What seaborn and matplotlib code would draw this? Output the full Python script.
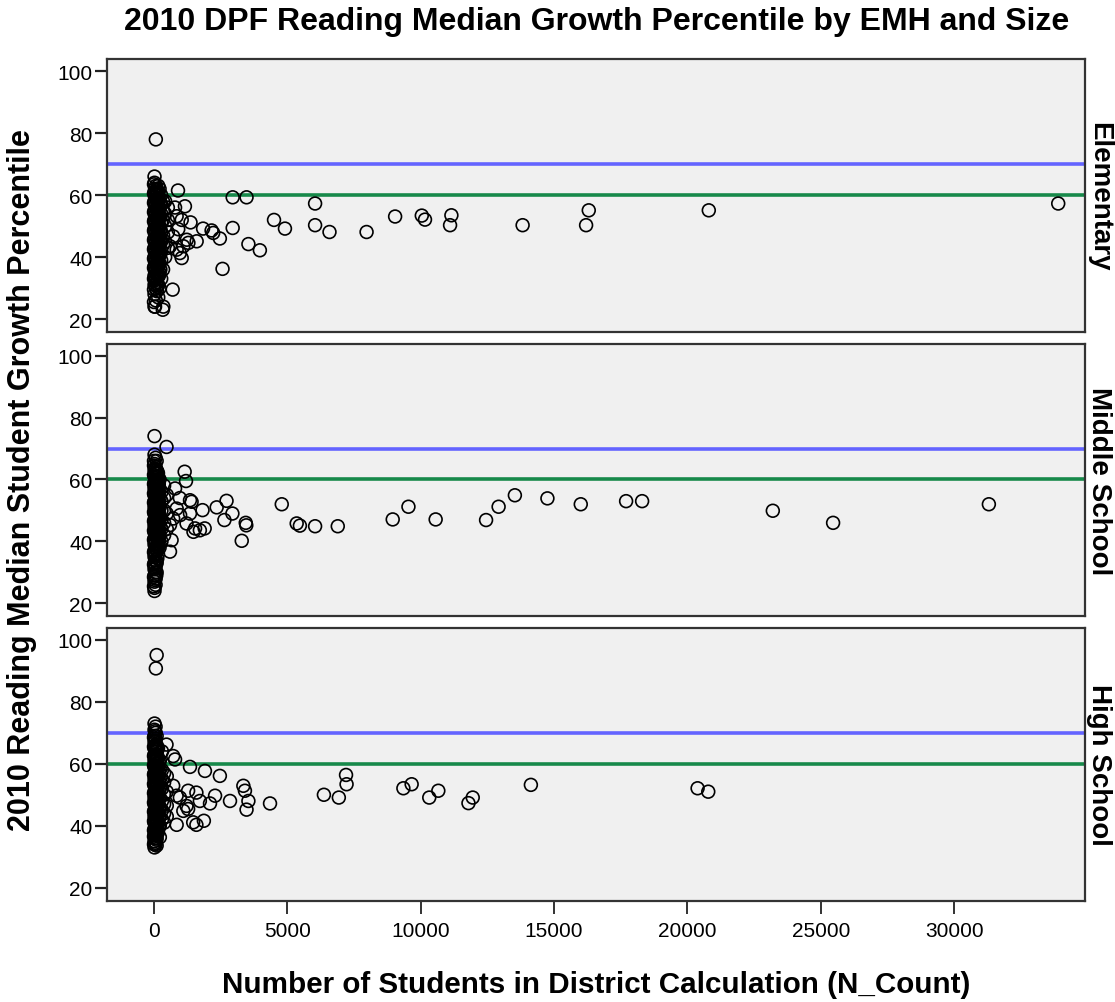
import numpy as np
import pandas as pd
import matplotlib
matplotlib.use("Agg")
import matplotlib.pyplot as plt
import seaborn as sns

# ---------------- data ----------------
levels = ["Elementary", "Middle School", "High School"]

elem_n = (
    [20] * 15 + [70] * 13 + [110] * 12 + [160] * 13 + [210] * 11 + [270] * 9 + [340] * 6 +
    [40] * 11 + [130] * 11 + [185] * 9 + [240] * 6 + [420] * 5 + [520] * 4 +
    [0] * 13 + [90] * 11 + [145] * 9 +
    [70, 330, 40, 900, 790, 1160, 1040, 1370, 910, 1230, 850, 1040, 700, 350, 720, 600,
     850, 970, 1100, 1290, 1600, 1840, 2160, 2220, 2470, 2950, 3470, 2950, 3540, 3970,
     2570, 4500, 4910, 6040, 6040, 6580, 7970, 9040, 10040, 10160, 11150, 11100,
     13820, 16300, 16200, 20800, 33900]
)
elem_mgp = (
    [24, 28, 31, 34, 37, 40, 43, 46, 49, 52, 55, 58, 61, 64, 66] +
    [26, 30, 33, 36, 39, 42, 45, 48, 51, 54, 57, 60, 63] +
    [29, 32, 35, 38, 41, 44, 47, 50, 53, 56, 59, 62] +
    [27, 31, 34, 37, 40, 43, 46, 49, 52, 55, 58, 61, 63] +
    [30, 35, 38, 41, 44, 47, 50, 53, 56, 59, 62] +
    [33, 39, 42, 45, 48, 51, 54, 57, 60] +
    [36, 44, 47, 52, 55, 58] +
    [32.5, 35.5, 38.5, 41.5, 44.5, 47.5, 50.5, 53.5, 56.5, 59.5, 62] +
    [30.5, 33.5, 36.5, 39.5, 42.5, 45.5, 48.5, 51.5, 54.5, 57.5, 60.5] +
    [34, 37.5, 40.5, 43.5, 46.5, 49.5, 52.5, 55.5, 58.5] +
    [36, 41, 45, 49, 53, 57] +
    [40, 45, 50, 54, 58] +
    [43, 48, 52, 56] +
    [25.5, 29.5, 33, 36.5, 39.5, 42.5, 45.5, 48.5, 51.5, 54.5, 57.5, 60.5, 63.5] +
    [31.5, 34.5, 37.5, 40.5, 43.5, 46.5, 49.5, 52.5, 55.5, 58.5, 61.5] +
    [35, 38, 41, 44, 47, 50, 53, 56, 59] +
    [78, 23, 24, 61.5, 56, 56.4, 52, 51.2, 49, 45.6, 42.4, 39.7, 29.5, 24, 46.7, 43.5,
     53.2, 41.3, 43.5, 44.6, 45.1, 49.2, 48.6, 47.8, 46, 59.3, 59.3, 49.4, 44.2, 42.2,
     36.2, 52, 49.2, 57.3, 50.3, 48.1, 48.1, 53.1, 53.4, 52.1, 53.5, 50.3,
     50.3, 55.1, 50.3, 55.1, 57.3]
)

mid_n = (
    [20] * 24 + [60] * 21 + [100] * 16 + [150] * 13 + [210] * 8 + [280] * 6 +
    [40] * 12 + [125] * 10 + [180] * 7 + [380] * 5 + [480] * 3 +
    [0] * 14 + [85] * 11 + [140] * 9 +
    [470, 1150, 1200, 970, 1350, 1410, 1480, 600, 660, 720, 850, 790, 1820, 2350, 2720,
     2940, 2640, 3440, 3460, 3290, 4790, 5350, 5470, 6040, 6890, 8950, 9540, 10560,
     12450, 12920, 13530, 14750, 16000, 17700, 18300, 23200, 25460, 31300,
     980, 1350, 1540, 1720, 1900, 1220, 600]
)
mid_mgp = (
    [24, 25, 27, 29, 31, 33, 35, 37, 39, 41, 43, 45, 47, 49, 51, 53, 55, 57, 59, 61, 63, 65, 68, 74] +
    [26, 28, 30, 32, 34, 36, 38, 40, 42, 44, 46, 48, 50, 52, 54, 56, 58, 60, 62, 64, 67] +
    [30, 33, 37, 41, 43, 45, 47, 49, 51, 53, 55, 57, 59, 61, 63, 66] +
    [36, 39, 42, 44, 46, 48, 50, 52, 54, 56, 58, 60, 62] +
    [38, 42, 45, 48, 51, 54, 57, 60] +
    [40, 44, 47, 50, 53, 56] +
    [27.5, 31.5, 35.5, 39.5, 42.5, 45.5, 48.5, 51.5, 54.5, 57.5, 60.5, 63.5] +
    [34.5, 38.5, 41.5, 44.5, 47.5, 50.5, 53.5, 56.5, 59.5, 62.5] +
    [40.5, 43.5, 46.5, 49.5, 52.5, 55.5, 58.5] +
    [42, 46, 50, 54, 58] +
    [44, 49, 55] +
    [25.5, 28.5, 32.5, 36.5, 40.5, 43.5, 46.5, 49.5, 52.5, 55.5, 58.5, 61.5, 64.5, 66] +
    [29, 33.5, 37.5, 41.5, 44.5, 47.5, 50.5, 53.5, 56.5, 59.5, 62.5] +
    [38, 41, 44, 47, 50, 53, 56, 59, 61] +
    [70.5, 62.5, 59.5, 54, 53.3, 52.8, 43.1, 36.7, 40.4, 47.4, 50.6, 57.1, 50.1, 51, 53.1,
     49, 46.9, 46, 45.2, 40.2, 52, 45.8, 45.1, 44.9, 44.9, 47.1, 51.2, 47.1,
     46.9, 51.2, 54.9, 53.9, 52, 53, 53, 49.9, 46, 52,
     48.5, 49, 44.2, 43.6, 44.2, 45.8, 45.3]
)

high_n = (
    [20] * 21 + [60] * 20 + [100] * 12 + [150] * 10 + [220] * 8 + [300] * 7 +
    [40] * 13 + [125] * 10 + [185] * 8 + [380] * 6 + [480] * 4 +
    [0] * 13 + [85] * 11 + [140] * 8 +
    [100, 70, 470, 790, 720, 1350, 1910, 2470, 3350, 3410, 3540, 3470, 2850, 2290, 2100,
     1720, 1280, 1590, 850, 850, 1590, 1870, 1100, 1280, 4350, 6370, 6930, 7200, 7220,
     9350, 9660, 10320, 10660, 11790, 11950, 14130, 20380, 20780, 720, 970, 1220, 1470,
     100, 220]
)
high_mgp = (
    [33, 35, 37, 39, 41, 43, 45, 47, 49, 51, 53, 55, 57, 59, 61, 63, 65, 67, 69, 71, 73] +
    [34, 36, 38, 40, 42, 44, 46, 48, 50, 52, 54, 56, 58, 60, 62, 64, 66, 68, 70, 72] +
    [36, 39, 42, 45, 48, 51, 54, 57, 60, 63, 66, 69] +
    [38, 41, 44, 47, 50, 53, 56, 59, 62, 65] +
    [40, 43, 46, 49, 52, 55, 58, 61] +
    [42, 45, 48, 52, 55, 58, 64] +
    [34.5, 37.5, 40.5, 43.5, 46.5, 49.5, 52.5, 55.5, 58.5, 61.5, 64.5, 67.5, 70.5] +
    [37.5, 40.5, 43.5, 46.5, 49.5, 52.5, 55.5, 58.5, 61.5, 64.5] +
    [39.5, 42.5, 45.5, 48.5, 51.5, 54.5, 57.5, 60.5] +
    [41, 44, 47, 50, 54, 57] +
    [43, 46.5, 51, 56] +
    [34, 36.5, 38.5, 41.5, 44.5, 47.5, 50.5, 53.5, 56.5, 59.5, 62.5, 65.5, 68.5] +
    [35.5, 38.5, 41.5, 44.5, 47.5, 50.5, 53.5, 56.5, 59.5, 62.5, 65.5] +
    [39, 42, 45, 48, 51, 54, 57, 60] +
    [95.1, 90.8, 66.2, 61.4, 62.5, 59, 57.7, 56.1, 52.9, 51.3, 48, 45.2, 48, 49.7, 47.2,
     48, 51.3, 50.7, 49.7, 40.3, 40.3, 41.6, 44.8, 45.4, 47.2, 50, 49.1, 56.4, 53.4,
     52.1, 53.4, 49.1, 51.3, 47.3, 49.1, 53.2, 52.1, 51, 52.9, 49.1, 46.4, 41.1,
     33.6, 36.3]
)

ref_lines = [70, 60]
ref_colors = ["#6464ff", "#17894a"]
x_ticks = [0, 5000, 10000, 15000, 20000, 25000, 30000]
y_ticks = [20, 40, 60, 80, 100]

df = pd.concat([
    pd.DataFrame({"N_Count": elem_n, "MGP": elem_mgp, "EMH": "Elementary"}),
    pd.DataFrame({"N_Count": mid_n, "MGP": mid_mgp, "EMH": "Middle School"}),
    pd.DataFrame({"N_Count": high_n, "MGP": high_mgp, "EMH": "High School"}),
], ignore_index=True)

# ---------------- plot ----------------
sns.set_theme(style="ticks")
plt.rcParams["font.family"] = ["Liberation Sans", "DejaVu Sans"]
plt.rcParams["text.color"] = "black"
plt.rcParams["axes.labelcolor"] = "black"
plt.rcParams["xtick.color"] = "black"
plt.rcParams["ytick.color"] = "black"
plt.rcParams["xtick.labelcolor"] = "black"
plt.rcParams["ytick.labelcolor"] = "black"

fig, axes = plt.subplots(3, 1, figsize=(11.15, 10.03), dpi=100, sharex=True)
fig.subplots_adjust(left=0.096, right=0.973, top=0.940, bottom=0.101, hspace=0.042)

for ax, lev in zip(axes, levels):
    sub = df[df["EMH"] == lev]
    ax.set_facecolor("#f0f0f0")
    for val, col in zip(ref_lines, ref_colors):
        ax.axhline(val, color=col, lw=2.6, zorder=1)
    sns.scatterplot(data=sub, x="N_Count", y="MGP", ax=ax, marker="o", s=85,
                    facecolor="none", edgecolor="black", linewidth=1.2, zorder=3)
    ax.set_xlim(-1760, 34900)
    ax.set_ylim(15.8, 103.9)
    ax.set_yticks(y_ticks)
    ax.set_xticks(x_ticks)
    ax.set_xlabel("")
    ax.set_ylabel("")
    for sp in ax.spines.values():
        sp.set_visible(True)
        sp.set_color("#333333")
        sp.set_linewidth(1.6)
    ax.tick_params(axis="y", length=9, width=1.6, pad=1.5, labelsize=15, color="#222222")
    ax.tick_params(axis="x", length=9.5, width=1.3, pad=5, labelsize=15, color="#222222")
    ax.text(1.001, 0.5, lev, transform=ax.transAxes, rotation=270, ha="left",
            va="center", fontsize=20, fontweight="bold", color="black")

for ax in axes[:-1]:
    ax.tick_params(axis="x", bottom=False, labelbottom=False)

fig.suptitle("2010 DPF Reading Median Growth Percentile by EMH and Size",
             x=0.535, y=0.978, va="center", fontsize=23, fontweight="bold", color="black")
fig.text(0.535, 0.018, "Number of Students in District Calculation (N_Count)",
         ha="center", va="center", fontsize=21.3, fontweight="bold", color="black")
fig.text(0.020, 0.521, "2010 Reading Median Student Growth Percentile",
         ha="center", va="center", rotation=90, fontsize=22, fontweight="bold", color="black")

fig.savefig("out.png", dpi=100)
